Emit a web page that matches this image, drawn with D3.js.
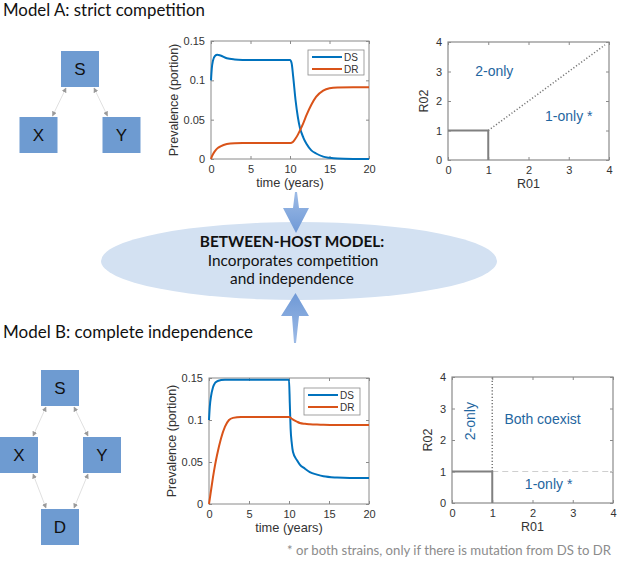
<!DOCTYPE html>
<html><head><meta charset="utf-8">
<script src="https://cdn.jsdelivr.net/npm/d3@7"></script>
<style>
html,body{margin:0;padding:0;background:#fff;}
svg{display:block;}
</style></head>
<body>
<svg id="fig" width="617" height="569"></svg>
<script>
// ---------- DATA ----------
const seriesNames = ["DS", "DR"];
const timeTicks = [0, 5, 10, 15, 20];
const prevTicks = [0, 0.05, 0.1, 0.15];
const rTicks = [0, 1, 2, 3, 4];

// Model A: strict competition
const tA  = [0, 0.1, 0.25, 0.5, 0.8, 1.2, 2, 3, 4, 6, 8, 10, 10.2, 10.4, 10.7, 11, 11.25, 11.7, 12.1, 12.7, 13.3, 14.2, 15, 16, 18, 20];
const dsA = [0.1, 0.115, 0.125, 0.131, 0.1325, 0.1315, 0.128, 0.1265, 0.126, 0.1258, 0.1258, 0.1258, 0.122, 0.105, 0.075, 0.053, 0.040, 0.027, 0.019, 0.011, 0.007, 0.003, 0.0015, 0.0005, 0.0001, 0];
const drA = [0, 0.003, 0.006, 0.010, 0.0135, 0.016, 0.019, 0.0201, 0.0203, 0.0203, 0.0203, 0.0203, 0.0206, 0.022, 0.026, 0.031, 0.036, 0.046, 0.056, 0.069, 0.079, 0.087, 0.090, 0.091, 0.0913, 0.0913];

// Model B: complete independence
const tB  = [0, 0.1, 0.25, 0.5, 0.75, 1, 1.5, 2, 2.5, 3, 4, 6, 8, 10, 10.1, 10.2, 10.35, 10.5, 11, 11.35, 12, 12.6, 13.5, 14.3, 16, 17.6, 20];
const dsB = [0.1, 0.116, 0.128, 0.139, 0.144, 0.146, 0.1475, 0.148, 0.148, 0.148, 0.148, 0.148, 0.148, 0.148, 0.12, 0.09, 0.072, 0.062, 0.052, 0.047, 0.042, 0.038, 0.035, 0.033, 0.0315, 0.031, 0.031];
const drB = [0, 0.006, 0.016, 0.032, 0.046, 0.058, 0.078, 0.092, 0.100, 0.1025, 0.1036, 0.1036, 0.1036, 0.1036, 0.1033, 0.1025, 0.1015, 0.1005, 0.098, 0.0965, 0.0955, 0.095, 0.0945, 0.0942, 0.094, 0.094, 0.094];

// diagrams
const nodesA = ["S", "X", "Y"];
const edgesA = [["S", "X"], ["S", "Y"]];
const nodesB = ["S", "X", "Y", "D"];
const edgesB = [["S", "X"], ["S", "Y"], ["X", "D"], ["Y", "D"]];

// region boundaries (R01, R02)
const coexBox   = [[0, 1], [1, 1], [1, 0]];
const diagA     = [[1, 1], [3.9, 3.9]];
const vertB     = [[1, 1], [1, 4]];
const horizB    = [[1, 1], [4, 1]];

// texts
const titleA = "Model A: strict competition";
const titleB = "Model B: complete independence";
const centerLines = ["BETWEEN-HOST MODEL:", "Incorporates competition", "and independence"];
const footnote = "* or both strains, only if there is mutation from DS to DR";

// ---------- STYLE / LAYOUT ----------
const COL_DS = "#0072BD", COL_DR = "#D95319";
const AX = "#8a8a8a", TXT = "#333", REG = "#1f66a0";
const svg = d3.select("#fig");
const HEAD = "Lato, 'Open Sans', sans-serif";
const MAT = "'Liberation Sans', Arial, sans-serif";

function fitText(sel, w) {
  const cur = sel.node().getComputedTextLength();
  const fs = parseFloat(sel.attr("font-size"));
  sel.attr("font-size", (fs * w / cur).toFixed(2));
}

// titles
fitText(svg.append("text").attr("x", 3).attr("y", 16).attr("font-family", HEAD).attr("font-size", 17).attr("fill", "#111").text(titleA), 202);
fitText(svg.append("text").attr("x", 3).attr("y", 338).attr("font-family", HEAD).attr("font-size", 17).attr("fill", "#111").text(titleB), 250);

// footnote
fitText(svg.append("text").attr("x", 287).attr("y", 555).attr("font-family", HEAD).attr("font-size", 14).attr("fill", "#8c8c8c").text(footnote), 324);

// ---------- diagrams ----------
const defs = svg.append("defs");
defs.append("marker").attr("id", "ah").attr("viewBox", "0 0 10 10").attr("refX", 9).attr("refY", 5)
  .attr("markerWidth", 5).attr("markerHeight", 5).attr("orient", "auto-start-reverse").attr("markerUnits", "userSpaceOnUse")
  .append("path").attr("d", "M0,0 L10,5 L0,10 z").attr("fill", "#9a9a9a");

function diagram(nodes, edges, pos) {
  const g = svg.append("g");
  const bw = 38, bh = 36;
  edges.forEach(([a, b]) => {
    const p = pos[a], q = pos[b];
    const dir = Math.sign(q[0] - p[0]);
    g.append("line")
      .attr("x1", p[0] + dir * 14).attr("y1", p[1] + bh / 2 + 1)
      .attr("x2", q[0] - dir * 14).attr("y2", q[1] - bh / 2 - 1)
      .attr("stroke", "#d8d8d8").attr("stroke-width", 0.8)
      .attr("marker-start", "url(#ah)").attr("marker-end", "url(#ah)");
  });
  nodes.forEach(n => {
    const p = pos[n];
    g.append("rect").attr("x", p[0] - bw / 2).attr("y", p[1] - bh / 2).attr("width", bw).attr("height", bh).attr("fill", "#6e9bd1");
    g.append("text").attr("x", p[0]).attr("y", p[1] + 6).attr("text-anchor", "middle")
      .attr("font-family", MAT).attr("font-size", 17).attr("fill", "#111").text(n);
  });
}
diagram(nodesA, edgesA, { S: [80, 69], X: [38.5, 135], Y: [121.5, 135] });
diagram(nodesB, edgesB, { S: [60, 388], X: [19, 455], Y: [102, 455], D: [60, 527] });

// ---------- time series charts ----------
function styleAxes(list) {
  list.forEach(a => {
    a.select(".domain").remove();
    a.selectAll("line").attr("stroke", AX);
    a.selectAll("text").attr("font-family", MAT).attr("font-size", 11).attr("fill", TXT);
  });
}
function tsChart(box, t, ds, dr, legendBox) {
  const [x0, x1, y0, y1] = box;
  const x = d3.scaleLinear().domain([0, 20]).range([x0, x1]);
  const y = d3.scaleLinear().domain([0, 0.15]).range([y1, y0]);
  const g = svg.append("g");
  g.append("rect").attr("x", x0).attr("y", y0).attr("width", x1 - x0).attr("height", y1 - y0)
    .attr("fill", "#fff").attr("stroke", AX).attr("stroke-width", 1);
  const gx = g.append("g").attr("transform", `translate(0,${y1})`)
    .call(d3.axisBottom(x).tickValues(timeTicks).tickFormat(d3.format("d")).tickSizeInner(-3).tickSizeOuter(0).tickPadding(6));
  const gy = g.append("g").attr("transform", `translate(${x0},0)`)
    .call(d3.axisLeft(y).tickValues(prevTicks).tickFormat(d => d3.format("~g")(d)).tickSizeInner(-3).tickSizeOuter(0).tickPadding(6));
  const gx2 = g.append("g").attr("transform", `translate(0,${y0})`)
    .call(d3.axisTop(x).tickValues(timeTicks).tickSizeInner(-3).tickSizeOuter(0).tickFormat(""));
  const gy2 = g.append("g").attr("transform", `translate(${x1},0)`)
    .call(d3.axisRight(y).tickValues(prevTicks).tickSizeInner(-3).tickSizeOuter(0).tickFormat(""));
  styleAxes([gx, gy, gx2, gy2]);
  const line = d3.line().x(d => x(d[0])).y(d => y(d[1])).curve(d3.curveMonotoneX);
  g.append("path").datum(t.map((v, i) => [v, ds[i]])).attr("d", line).attr("fill", "none").attr("stroke", COL_DS).attr("stroke-width", 2);
  g.append("path").datum(t.map((v, i) => [v, dr[i]])).attr("d", line).attr("fill", "none").attr("stroke", COL_DR).attr("stroke-width", 2);
  // labels
  g.append("text").attr("transform", `translate(${x0 - 33},${(y0 + y1) / 2}) rotate(-90)`).attr("text-anchor", "middle")
    .attr("font-family", MAT).attr("font-size", 12.5).attr("fill", TXT).text("Prevalence (portion)");
  g.append("text").attr("x", (x0 + x1) / 2).attr("y", y1 + 28).attr("text-anchor", "middle")
    .attr("font-family", MAT).attr("font-size", 12.8).attr("fill", TXT).text("time (years)");
  // legend
  const [lx0, lx1, ly0, ly1] = legendBox;
  const lg = g.append("g");
  lg.append("rect").attr("x", lx0).attr("y", ly0).attr("width", lx1 - lx0).attr("height", ly1 - ly0)
    .attr("fill", "#fff").attr("stroke", AX).attr("stroke-width", 0.8);
  [COL_DS, COL_DR].forEach((c, i) => {
    const yy = ly0 + 7 + i * 12;
    lg.append("line").attr("x1", lx0 + 4).attr("x2", lx0 + 34).attr("y1", yy).attr("y2", yy).attr("stroke", c).attr("stroke-width", 2);
    lg.append("text").attr("x", lx0 + 36).attr("y", yy + 3.5).attr("font-family", MAT).attr("font-size", 10).attr("fill", TXT).text(seriesNames[i]);
  });
}
tsChart([211, 369, 41, 159], tA, dsA, drA, [308, 364, 50, 75]);
tsChart([209, 369, 378, 504], tB, dsB, drB, [304, 360, 388, 415]);

// ---------- R0 charts ----------
function rChart(box) {
  const [x0, x1, y0, y1] = box;
  const x = d3.scaleLinear().domain([0, 4]).range([x0, x1]);
  const y = d3.scaleLinear().domain([0, 4]).range([y1, y0]);
  const g = svg.append("g");
  g.append("rect").attr("x", x0).attr("y", y0).attr("width", x1 - x0).attr("height", y1 - y0)
    .attr("fill", "#fff").attr("stroke", AX).attr("stroke-width", 1.2);
  const gx = g.append("g").attr("transform", `translate(0,${y1})`)
    .call(d3.axisBottom(x).tickValues(rTicks).tickFormat(d3.format("d")).tickSizeInner(-3).tickSizeOuter(0).tickPadding(6));
  const gy = g.append("g").attr("transform", `translate(${x0},0)`)
    .call(d3.axisLeft(y).tickValues(rTicks).tickFormat(d3.format("d")).tickSizeInner(-3).tickSizeOuter(0).tickPadding(6));
  const gx2 = g.append("g").attr("transform", `translate(0,${y0})`)
    .call(d3.axisTop(x).tickValues(rTicks).tickSizeInner(-3).tickSizeOuter(0).tickFormat(""));
  const gy2 = g.append("g").attr("transform", `translate(${x1},0)`)
    .call(d3.axisRight(y).tickValues(rTicks).tickSizeInner(-3).tickSizeOuter(0).tickFormat(""));
  styleAxes([gx, gy, gx2, gy2]);
  g.append("text").attr("transform", `translate(${x0 - 20},${(y0 + y1) / 2}) rotate(-90)`).attr("text-anchor", "middle")
    .attr("font-family", MAT).attr("font-size", 12.5).attr("fill", TXT).text("R02");
  g.append("text").attr("x", (x0 + x1) / 2).attr("y", y1 + 28).attr("text-anchor", "middle")
    .attr("font-family", MAT).attr("font-size", 12.5).attr("fill", TXT).text("R01");
  const line = d3.line().x(d => x(d[0])).y(d => y(d[1]));
  return { g, x, y, line };
}
function regionText(c, xv, yv, s, rot) {
  const t = c.g.append("text").attr("text-anchor", "middle").attr("font-family", MAT).attr("font-size", 14)
    .attr("fill", REG).text(s);
  if (rot) t.attr("transform", `translate(${c.x(xv)},${c.y(yv)}) rotate(-90)`).attr("dy", "0.35em");
  else t.attr("x", c.x(xv)).attr("y", c.y(yv)).attr("dy", "0.35em");
}

const rA = rChart([448, 609, 42, 160]);
rA.g.append("path").attr("d", rA.line(diagA)).attr("fill", "none").attr("stroke", "#777").attr("stroke-width", 1.5).attr("stroke-dasharray", "1.2,2");
rA.g.append("path").attr("d", rA.line(coexBox)).attr("fill", "none").attr("stroke", "#808080").attr("stroke-width", 2);
regionText(rA, 1.15, 3.0, "2-only");
regionText(rA, 3.0, 1.48, "1-only *");

const rB = rChart([452, 613, 377, 503]);
rB.g.append("path").attr("d", rB.line(horizB)).attr("fill", "none").attr("stroke", "#cfcfcf").attr("stroke-width", 1.2).attr("stroke-dasharray", "6,4");
rB.g.append("path").attr("d", rB.line(vertB)).attr("fill", "none").attr("stroke", "#777").attr("stroke-width", 1.5).attr("stroke-dasharray", "1.2,2");
rB.g.append("path").attr("d", rB.line(coexBox)).attr("fill", "none").attr("stroke", "#808080").attr("stroke-width", 2);
regionText(rB, 0.45, 2.6, "2-only", true);
regionText(rB, 2.25, 2.65, "Both coexist");
regionText(rB, 2.4, 0.6, "1-only *");

// ---------- central ellipse + arrows ----------
const grad = defs.append("linearGradient").attr("id", "ag").attr("x1", 0).attr("y1", 0).attr("x2", 0).attr("y2", 1);
grad.append("stop").attr("offset", "0%").attr("stop-color", "#9dbbe6");
grad.append("stop").attr("offset", "100%").attr("stop-color", "#6f99d6");
const grad2 = defs.append("linearGradient").attr("id", "ag2").attr("x1", 0).attr("y1", 1).attr("x2", 0).attr("y2", 0);
grad2.append("stop").attr("offset", "0%").attr("stop-color", "#9dbbe6");
grad2.append("stop").attr("offset", "100%").attr("stop-color", "#6f99d6");

svg.append("ellipse").attr("cx", 299).attr("cy", 261).attr("rx", 198).attr("ry", 39).attr("fill", "#d3e1f2");

// down arrow (top)
svg.append("path").attr("d", "M295,192 L297,192 L299,208 L309,208 L296,233 L283,208 L293,208 Z").attr("fill", "url(#ag)");
// up arrow (bottom)
svg.append("path").attr("d", "M294,343 L296,343 L299,316 L309,316 L295.5,293 L281,316 L292,316 Z").attr("fill", "url(#ag2)");

const ct = svg.append("g").attr("font-family", HEAD).attr("fill", "#111").attr("text-anchor", "middle");
ct.append("text").attr("x", 292).attr("y", 247).attr("font-weight", "bold").attr("font-size", 15.4).text(centerLines[0]);
ct.append("text").attr("x", 293).attr("y", 265.5).attr("font-size", 15.4).text(centerLines[1]);
ct.append("text").attr("x", 292).attr("y", 284).attr("font-size", 15.4).text(centerLines[2]);
</script>
</body></html>
